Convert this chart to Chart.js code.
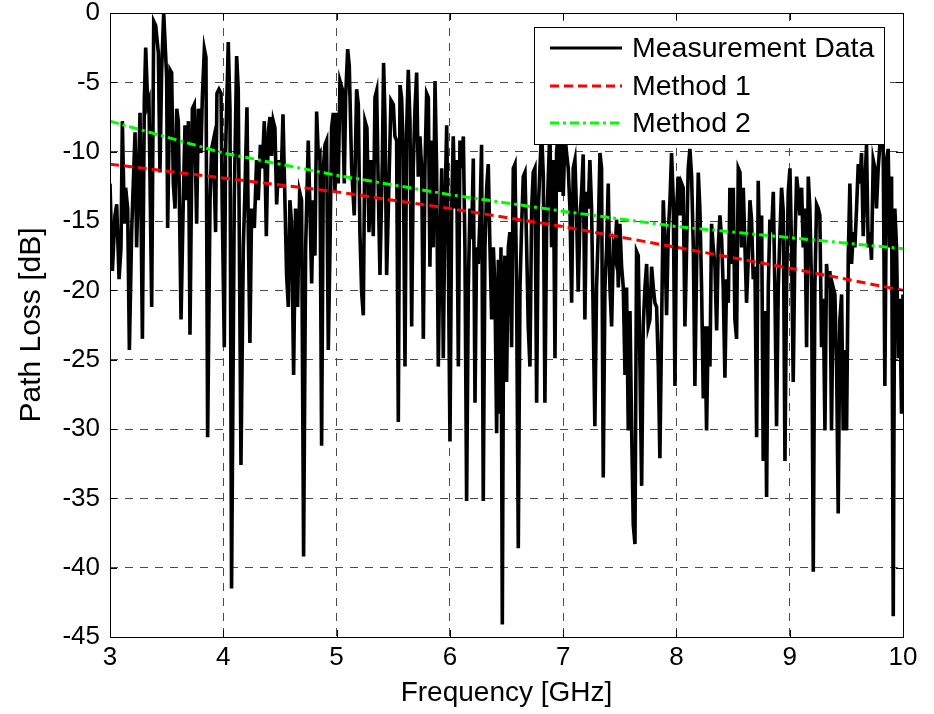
<!DOCTYPE html>
<html>
<head>
<meta charset="utf-8">
<script src="https://cdn.jsdelivr.net/npm/chart.js@4.4.1/dist/chart.umd.min.js"></script>
<style>
  html, body { margin: 0; padding: 0; background: #ffffff; }
  #wrap { width: 934px; height: 714px; }
</style>
</head>
<body>
<div id="wrap"><canvas id="c" width="934" height="714"></canvas></div>
<script>
// ---------- data ----------
const freq = [
  3.000,3.021,3.044,3.059,3.080,3.097,3.109,3.127,3.138,3.156,3.171,3.191,3.221,3.235,3.265,3.286,3.303,3.315,3.333,3.344,3.368,3.386,3.403,3.427,3.441,3.456,3.474,3.500,3.509,3.530,3.544,3.559,3.574,3.589,3.603,3.627,3.647,3.662,3.677,3.692,3.706,3.727,3.744,3.765,3.780,3.803,3.815,3.833,3.847,3.862,
  3.883,3.897,3.912,3.932,3.944,3.962,3.980,3.991,4.009,4.020,4.044,4.059,4.073,4.097,4.118,4.132,4.156,4.177,4.191,4.209,4.221,4.235,4.250,4.274,4.294,4.309,4.327,4.344,4.362,4.380,4.397,4.412,4.426,4.441,4.456,4.471,4.491,4.509,4.527,4.544,4.559,4.574,4.588,4.603,4.621,4.638,4.656,4.674,4.691,4.709,4.727,4.750,
  4.765,4.780,4.795,4.809,4.824,4.839,4.853,4.868,4.883,4.898,4.912,4.927,4.942,4.956,4.971,4.986,5.000,5.015,5.030,5.051,5.068,5.080,5.098,5.112,5.133,5.156,5.177,5.192,5.206,5.221,5.236,5.251,5.268,5.286,5.304,5.324,5.339,5.354,5.368,5.383,5.404,5.415,5.427,5.442,5.457,5.480,5.501,5.515,5.530,5.545,5.560,5.574,5.589,5.604,5.618,5.633,
  5.648,5.663,5.677,5.692,5.707,5.721,5.736,5.751,5.766,5.780,5.795,5.810,5.824,5.839,5.854,5.869,5.883,5.898,5.913,5.928,5.942,5.957,5.972,5.986,6.001,6.016,6.030,6.045,6.060,6.075,6.089,6.104,6.119,6.133,6.148,6.163,6.177,6.192,6.207,6.222,6.236,6.251,6.266,6.280,6.295,6.310,6.325,6.339,6.354,6.369,6.384,6.398,6.413,6.428,6.442,6.451,6.463,6.475,6.486,6.501,6.516,
  6.530,6.545,6.560,6.575,6.589,6.604,6.619,6.633,6.648,6.663,6.678,6.692,6.707,6.722,6.736,6.751,6.766,6.781,6.795,6.810,6.825,6.839,6.854,6.869,6.883,6.898,6.913,6.928,6.942,6.957,6.972,6.986,7.001,7.016,7.030,7.045,7.060,7.075,7.089,7.104,7.119,7.133,7.148,7.163,7.177,7.192,7.207,7.222,7.236,7.251,7.266,7.280,7.295,7.310,7.325,7.339,7.354,7.369,
  7.384,7.398,7.413,7.428,7.443,7.457,7.472,7.487,7.501,7.516,7.531,7.546,7.560,7.575,7.590,7.604,7.619,7.634,7.648,7.663,7.678,7.693,7.707,7.722,7.737,7.751,7.766,7.781,7.796,7.810,7.825,7.840,7.854,7.869,7.884,7.899,7.913,7.928,7.943,7.957,7.972,7.987,8.002,8.016,8.031,8.046,8.060,8.075,8.090,8.104,8.119,8.134,8.149,8.163,8.178,8.193,8.207,8.222,8.237,8.252,8.266,8.281,
  8.296,8.310,8.325,8.340,8.355,8.369,8.384,8.399,8.413,8.428,8.443,8.458,8.472,8.487,8.502,8.516,8.531,8.546,8.561,8.575,8.590,8.605,8.619,8.634,8.649,8.663,8.678,8.693,8.708,8.722,8.737,8.752,8.766,8.781,8.796,8.811,8.825,8.840,8.855,8.869,8.884,8.899,8.914,8.928,8.943,8.958,8.972,8.987,9.002,9.016,9.031,9.046,9.061,9.075,9.090,9.105,9.119,9.134,9.149,9.164,
  9.178,9.193,9.208,9.222,9.237,9.252,9.266,9.281,9.296,9.311,9.325,9.340,9.355,9.369,9.384,9.399,9.414,9.428,9.443,9.458,9.472,9.487,9.502,9.517,9.531,9.546,9.561,9.575,9.590,9.605,9.619,9.634,9.649,9.664,9.678,9.693,9.708,9.722,9.737,9.752,9.766,9.781,9.796,9.811,9.825,9.840,9.855,9.869,9.884,9.899,9.914,9.928,9.943,9.958,9.972,9.987,10.000
];
const measured = [
  -12.3,-18.6,-14.6,-13.8,-19.2,-16.9,-7.8,-15.2,-12.6,-14.1,-24.3,-15.8,-8.6,-16.9,-7.2,-23.5,-6.3,-2.5,-6.6,-6.3,-21.2,-0.6,-0.9,-2.9,-11.5,-4.1,0,-4.6,-15.5,-4.1,-4.3,-12.3,-14.1,-6.9,-7.8,-22.1,-13.5,-8.1,-13.5,-7.8,-23.2,-6.9,-6.6,-15.2,-6.9,-10.1,-6.1,-2.6,-3.2,-30.6,
  -13.5,-9.8,-9.2,-15.8,-5.8,-5.5,-5.8,-14.1,-24.1,-10.1,-2.1,-6.9,-41.5,-13.5,-3.1,-5.5,-32.6,-16.9,-12.9,-6.8,-15.8,-23.8,-14.1,-15.5,-10.6,-13.5,-9.5,-11.2,-7.8,-16.1,-8.6,-7.5,-10.3,-7.8,-8.3,-13.8,-10.6,-12.6,-7.3,-13.5,-18.9,-21.2,-13.5,-15.2,-26.1,-14.1,-21.2,-12.9,-13.5,-39.2,-16.9,-9.2,
  -14.1,-19.5,-13.5,-17.5,-7.1,-10.3,-10.1,-31.2,-11.2,-9.5,-9.2,-24.3,-16.9,-8.3,-7.2,-12.9,-7.2,-12.3,-4.9,-5.5,-12.3,-6.1,-2.6,-3.8,-11.2,-14.6,-5.5,-6.6,-15.8,-20.1,-21.8,-7.8,-8.3,-15.8,-10.6,-16.1,-6.1,-5.6,-12.6,-18.9,-10.6,-3.6,-7.5,-18.9,-14.1,-6.3,-6.6,-8.9,-9.2,-29.5,-5.2,-6.1,-10.1,-25.5,-8.6,-4.1,
  -7.8,-22.6,-11.2,-6.9,-4.3,-11.8,-8.9,-11.2,-23.5,-11.2,-5.8,-6.1,-18.3,-9.2,-16.9,-4.9,-11.2,-25.5,-16.9,-11.2,-24.9,-14.1,-8.1,-16.9,-30.9,-14.1,-8.9,-14.1,-10.6,-25.5,-9.2,-11.2,-8.9,-16.9,-35.2,-19.8,-14.1,-16.3,-10.5,-28.1,-16.9,-18.1,-14.6,-9.5,-35.2,-16.9,-12.6,-10.9,-16.9,-22.1,-16.9,-19.8,-30.3,-17.8,-28.9,-16.9,-44.1,-19.8,-17.5,-26.6,-16.9,
  -15.8,-24.1,-11.2,-10.9,-19.8,-38.6,-19.8,-15.5,-11.8,-11.5,-16.9,-22.6,-25.5,-14.1,-11.5,-11.2,-28.1,-14.1,-11.2,-8.5,-11.8,-28.1,-15.5,-11.8,-8.5,-16.9,-10.6,-24.9,-10.1,-8.5,-12.9,-9.0,-13.2,-8.8,-10.1,-11.2,-14.1,-20.9,-11.2,-10.6,-14.6,-20.1,-14.9,-12.9,-10.2,-22.1,-12.9,-14.1,-10.6,-14.1,-22.3,-29.8,-19.8,-15.8,-10.1,-11.2,-33.5,-19.8,
  -16.9,-12.3,-19.8,-22.6,-16.9,-17.5,-14.9,-19.8,-15.2,-18.3,-19.8,-26.1,-19.8,-30.1,-21.5,-29.8,-36.9,-38.3,-17.2,-17.5,-25.5,-34.1,-22.6,-19.8,-18.1,-22.6,-22.1,-18.3,-19.8,-20.9,-21.2,-25.5,-32.1,-22.6,-13.5,-16.9,-21.8,-15.8,-13.5,-10.1,-13.5,-26.9,-14.1,-11.8,-14.6,-12.3,-12.6,-22.6,-16.9,-11.2,-9.8,-11.8,-16.9,-26.9,-18.3,-11.5,-14.1,-19.8,-27.8,-22.6,-30.1,-22.6,
  -25.5,-15.2,-16.9,-18.3,-22.9,-16.9,-14.6,-16.3,-19.8,-26.3,-19.2,-20.9,-12.6,-18.1,-12.6,-22.1,-23.5,-11.2,-11.5,-16.9,-12.6,-16.9,-20.9,-17.8,-13.5,-14.9,-19.2,-18.3,-30.6,-12.1,-18.1,-14.6,-32.3,-21.5,-34.9,-19.8,-14.9,-15.8,-12.9,-19.8,-29.8,-19.8,-15.8,-12.6,-14.3,-32.3,-19.8,-12.9,-11.2,-16.9,-26.6,-16.9,-11.8,-12.9,-14.6,-12.6,-16.9,-14.1,-24.1,-11.8,
  -14.1,-19.8,-40.3,-19.8,-13.8,-14.1,-14.6,-24.1,-20.6,-30.1,-18.1,-19.8,-18.6,-30.1,-19.8,-20.3,-25.5,-36.1,-22.1,-20.3,-30.1,-24.3,-30.1,-17.5,-12.3,-18.1,-15.8,-16.9,-14.1,-10.9,-12.3,-10.1,-16.1,-12.3,-9.5,-16.9,-15.8,-17.8,-10.6,-11.2,-14.1,-11.2,-9.5,-8.9,-9.5,-26.9,-10.6,-9.8,-16.9,-11.8,-43.5,-14.1,-16.9,-24.9,-20.6,-28.9,-20.3
];
const methodFreq = [3, 4, 5, 6, 7, 8, 9, 10];
const method1 = [-10.9, -11.9, -12.9, -14.1, -15.4, -16.9, -18.4, -20.0];
const method2 = [-7.8, -10.1, -11.7, -13.1, -14.3, -15.4, -16.2, -17.0];
const seriesNames = ['Measurement Data', 'Method 1', 'Method 2'];
const xTitle = 'Frequency [GHz]';
const yTitle = 'Path Loss [dB]';

// ---------- chart ----------
const FONT = "'Liberation Sans', Arial, Helvetica, sans-serif";
Chart.defaults.color = '#000000';
Chart.defaults.font.family = FONT;

function pairs(xs, ys) { return xs.map((x, i) => ({ x: x, y: ys[i] })); }

const frameAndLegend = {
  id: 'frameAndLegend',
  afterDraw(chart) {
    const ctx = chart.ctx;
    const a = chart.chartArea;
    const xs = chart.scales.x, ys = chart.scales.y;
    ctx.save();
    // axes box
    ctx.strokeStyle = '#000';
    ctx.lineWidth = 1;
    ctx.setLineDash([]);
    ctx.strokeRect(Math.round(a.left) + 0.5, Math.round(a.top) + 0.5,
                   Math.round(a.right - a.left), Math.round(a.bottom - a.top));
    // inward ticks
    const tl = 7;
    ctx.beginPath();
    xs.ticks.forEach(t => {
      const px = Math.round(xs.getPixelForValue(t.value)) + 0.5;
      ctx.moveTo(px, a.bottom); ctx.lineTo(px, a.bottom - tl);
      ctx.moveTo(px, a.top); ctx.lineTo(px, a.top + tl);
    });
    ys.ticks.forEach(t => {
      const py = Math.round(ys.getPixelForValue(t.value)) + 0.5;
      ctx.moveTo(a.left, py); ctx.lineTo(a.left + tl, py);
      ctx.moveTo(a.right, py); ctx.lineTo(a.right - tl, py);
    });
    ctx.stroke();

    // legend box (MATLAB style, northeast)
    const bx = a.right - 369, by = a.top + 14, bw = 350, bh = 117;
    ctx.fillStyle = '#ffffff';
    ctx.fillRect(bx, by, bw, bh);
    ctx.strokeStyle = '#000';
    ctx.lineWidth = 1;
    ctx.strokeRect(bx + 0.5, by + 0.5, bw, bh);
    const rows = [by + 21, by + 59, by + 96];
    chart.data.datasets.forEach((ds, i) => {
      const y = rows[i];
      ctx.beginPath();
      ctx.strokeStyle = ds.borderColor;
      ctx.lineWidth = 3;
      ctx.setLineDash(ds.borderDash || []);
      ctx.moveTo(bx + 16, y);
      ctx.lineTo(bx + 88, y);
      ctx.stroke();
      ctx.setLineDash([]);
      ctx.fillStyle = '#000';
      ctx.font = "28.5px " + FONT;
      ctx.textAlign = 'left';
      ctx.textBaseline = 'middle';
      ctx.fillText(ds.label, bx + 98, y + 1);
    });
    ctx.restore();
  }
};

new Chart(document.getElementById('c'), {
  type: 'line',
  data: {
    datasets: [
      { label: seriesNames[0], data: pairs(freq, measured), borderColor: '#000000', borderWidth: 3.6,
        pointRadius: 0, tension: 0, fill: false, order: 3 },
      { label: seriesNames[1], data: pairs(methodFreq, method1), borderColor: '#ff0000', borderWidth: 3,
        borderDash: [9, 5], pointRadius: 0, tension: 0, fill: false, order: 2 },
      { label: seriesNames[2], data: pairs(methodFreq, method2), borderColor: '#00ff00', borderWidth: 3,
        borderDash: [9, 4, 3, 4], pointRadius: 0, tension: 0, fill: false, order: 1 }
    ]
  },
  options: {
    responsive: false,
    devicePixelRatio: 1,
    animation: false,
    layout: { padding: { top: 13, right: 31, left: 0, bottom: 0 } },
    plugins: { legend: { display: false }, tooltip: { enabled: false } },
    scales: {
      x: {
        type: 'linear', min: 3, max: 10,
        ticks: { stepSize: 1, font: { size: 26 }, padding: 5, maxRotation: 0 },
        grid: { color: '#4a4a4a', lineWidth: 1, drawTicks: false, tickLength: 0 },
        border: { display: false, dash: [8, 7] },
        title: { display: true, text: xTitle, font: { size: 28 }, padding: { top: 0, bottom: 4 } },
        afterFit(s) { s.height = 77; s.paddingLeft = 0; s.paddingRight = 0; }
      },
      y: {
        type: 'linear', min: -45, max: 0,
        ticks: { stepSize: 5, font: { size: 26 }, padding: 10 },
        grid: { color: '#4a4a4a', lineWidth: 1, drawTicks: false, tickLength: 0 },
        border: { display: false, dash: [8, 7] },
        title: { display: true, text: yTitle, font: { size: 30 }, padding: { top: 14, bottom: 0 } },
        afterFit(s) { s.width = 110; s.paddingTop = 0; s.paddingBottom = 0; }
      }
    }
  },
  plugins: [frameAndLegend]
});
</script>
</body>
</html>
